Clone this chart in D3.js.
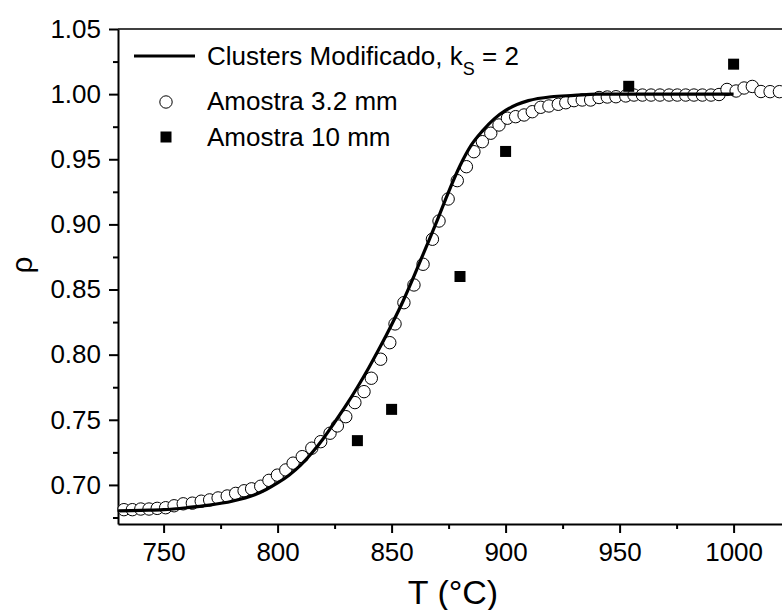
<!DOCTYPE html>
<html>
<head>
<meta charset="utf-8">
<script src="https://cdn.jsdelivr.net/npm/d3@7"></script>
<style>
  body { margin: 0; background: #fff; }
  text { font-family: "Liberation Sans", Arial, sans-serif; fill: #000; }
</style>
</head>
<body>
<div id="chart"></div>
<script>
const width = 782;
const height = 610;

// modelo (linha)
const modelT   = [730, 740, 750, 760, 770, 780, 790, 795, 800, 805, 810, 815, 820, 825, 830, 835, 840, 845, 850, 855, 860, 865, 870, 875, 880, 885, 890, 895, 900, 905, 910, 920, 930, 940, 1000];
const modelRho = [0.680, 0.6805, 0.681, 0.6825, 0.6845, 0.6875, 0.6925, 0.6965, 0.7015, 0.7075, 0.715, 0.7245, 0.7355, 0.748, 0.761, 0.775, 0.790, 0.806, 0.823, 0.841, 0.861, 0.882, 0.903, 0.925, 0.945, 0.961, 0.972, 0.981, 0.9875, 0.992, 0.995, 0.998, 0.999, 1.000, 1.000];

// amostra 3.2 mm (círculos)
const smallT   = [732.6, 736.3, 740.0, 743.6, 747.2, 750.9, 754.6, 758.6, 762.6, 766.5, 770.2, 773.9, 777.9, 781.6, 785.3, 788.6, 792.6, 796.2, 799.9, 803.6, 806.8, 810.8, 815.0, 818.9, 823.0, 826.2, 829.9, 833.9, 837.9, 841.1, 845.2, 849.2, 851.5, 855.4, 859.8, 863.8, 867.9, 870.8, 874.8, 878.8, 882.8, 886.1, 889.8, 893.5, 897.1, 900.8, 904.4, 908.1, 911.7, 915.4, 919.0, 923.1, 926.4, 930.0, 933.6, 937.3, 941.0, 944.6, 948.4, 952.7, 956.3, 960.0, 963.8, 967.7, 971.7, 975.3, 979.0, 982.6, 986.3, 990.1, 993.6, 997.1, 1001.1, 1004.6, 1008.2, 1012.0, 1016.0, 1020.1];
const smallRho = [0.681, 0.681, 0.6815, 0.6815, 0.682, 0.6825, 0.684, 0.6855, 0.686, 0.6875, 0.6885, 0.690, 0.6915, 0.6935, 0.6955, 0.697, 0.699, 0.7035, 0.7075, 0.7115, 0.7167, 0.7217, 0.7282, 0.7332, 0.7397, 0.7453, 0.7524, 0.7632, 0.7716, 0.7819, 0.7965, 0.8092, 0.8236, 0.8399, 0.8535, 0.8694, 0.8886, 0.9026, 0.9195, 0.9336, 0.9443, 0.9558, 0.9635, 0.970, 0.9763, 0.9815, 0.9827, 0.9840, 0.9865, 0.9899, 0.9909, 0.9922, 0.9934, 0.9950, 0.9955, 0.9955, 0.9974, 0.9978, 0.998, 0.9986, 0.9993, 0.9993, 0.9993, 0.9993, 0.9993, 0.9993, 0.9993, 0.9993, 0.9993, 0.9993, 0.9997, 1.0036, 1.0024, 1.0047, 1.0059, 1.0020, 1.0019, 1.0019];

// amostra 10 mm (quadrados)
const bigT   = [835, 850, 880, 900, 954, 1000];
const bigRho = [0.734, 0.758, 0.860, 0.956, 1.006, 1.023];

const xTicks = [750, 800, 850, 900, 950, 1000];
const xMinor = [775, 825, 875, 925, 975, 1025];
const yTicks = [0.70, 0.75, 0.80, 0.85, 0.90, 0.95, 1.00, 1.05];
const yMinor = [0.675, 0.725, 0.775, 0.825, 0.875, 0.925, 0.975, 1.025];

const plotLeft = 118, plotTop = 29, plotBottom = 524;

const x = d3.scaleLinear().domain([730, 1030]).range([plotLeft, 802]);
const y = d3.scaleLinear().domain([0.67, 1.05]).range([plotBottom, plotTop]);

const svg = d3.select("#chart")
    .append("svg")
    .attr("width", width)
    .attr("height", height);

// eixos
const xAxis = svg.append("g")
    .attr("transform", `translate(0,${plotBottom})`)
    .call(d3.axisBottom(x).tickValues(xTicks).tickFormat(d3.format("d")).tickSize(9).tickSizeOuter(0).tickPadding(10));
xAxis.append("g")
    .call(d3.axisBottom(x).tickValues(xMinor).tickFormat("").tickSize(5).tickSizeOuter(0))
    .select(".domain").remove();

const yAxis = svg.append("g")
    .attr("transform", `translate(${plotLeft},0)`)
    .call(d3.axisLeft(y).tickValues(yTicks).tickFormat(d3.format(".2f")).tickSize(9).tickSizeOuter(0).tickPadding(8));
yAxis.append("g")
    .call(d3.axisLeft(y).tickValues(yMinor).tickFormat("").tickSize(5).tickSizeOuter(0))
    .select(".domain").remove();

svg.selectAll(".domain").attr("stroke", "#000").attr("stroke-width", 2);
svg.selectAll(".tick line").attr("stroke", "#000").attr("stroke-width", 2);
svg.selectAll(".tick text")
    .style("font-family", '"Liberation Sans", Arial, sans-serif')
    .style("font-size", "26px")
    .attr("fill", "#000");

// linha superior
svg.append("line")
    .attr("x1", plotLeft).attr("x2", width)
    .attr("y1", y(1.05)).attr("y2", y(1.05))
    .attr("stroke", "#000").attr("stroke-width", 1.5);

// círculos
const small = smallT.map((t, i) => ({ t, r: smallRho[i] }));
svg.append("g").selectAll("circle")
    .data(small)
    .enter()
    .append("circle")
    .attr("cx", d => x(d.t))
    .attr("cy", d => y(d.r))
    .attr("r", 6.2)
    .attr("fill", "#fff")
    .attr("stroke", "#000")
    .attr("stroke-width", 1);

// linha do modelo
const model = modelT.map((t, i) => ({ t, r: modelRho[i] }));
svg.append("path")
    .datum(model)
    .attr("fill", "none")
    .attr("stroke", "#000")
    .attr("stroke-width", 3.2)
    .attr("d", d3.line().x(d => x(d.t)).y(d => y(d.r)).curve(d3.curveMonotoneX));

// quadrados
const big = bigT.map((t, i) => ({ t, r: bigRho[i] }));
svg.append("g").selectAll("rect")
    .data(big)
    .enter()
    .append("rect")
    .attr("x", d => x(d.t) - 5.5)
    .attr("y", d => y(d.r) - 5.5)
    .attr("width", 11)
    .attr("height", 11)
    .attr("fill", "#000");

// legenda
const lg = svg.append("g");
lg.append("line")
    .attr("x1", 134).attr("x2", 195).attr("y1", 56).attr("y2", 56)
    .attr("stroke", "#000").attr("stroke-width", 3.2);
const t1 = lg.append("text").attr("x", 207).attr("y", 65).style("font-size", "26px");
t1.append("tspan").text("Clusters Modificado, k");
t1.append("tspan").attr("dy", 10).style("font-size", "18px").text("S");
t1.append("tspan").attr("dy", -10).text(" = 2");

lg.append("circle")
    .attr("cx", 166).attr("cy", 102).attr("r", 6.2)
    .attr("fill", "#fff").attr("stroke", "#000").attr("stroke-width", 1);
lg.append("text").attr("x", 207).attr("y", 110).style("font-size", "26px").text("Amostra 3.2 mm");

lg.append("rect")
    .attr("x", 160.5).attr("y", 131.5).attr("width", 11).attr("height", 11)
    .attr("fill", "#000");
lg.append("text").attr("x", 207).attr("y", 146).style("font-size", "26px").text("Amostra 10 mm");

// títulos dos eixos
svg.append("text")
    .attr("x", 453).attr("y", 604)
    .attr("text-anchor", "middle")
    .style("font-size", "34px")
    .text("T (°C)");

svg.append("text")
    .attr("transform", "translate(32,265) rotate(-90)")
    .attr("text-anchor", "middle")
    .style("font-size", "30px")
    .text("ρ");
</script>
</body>
</html>
